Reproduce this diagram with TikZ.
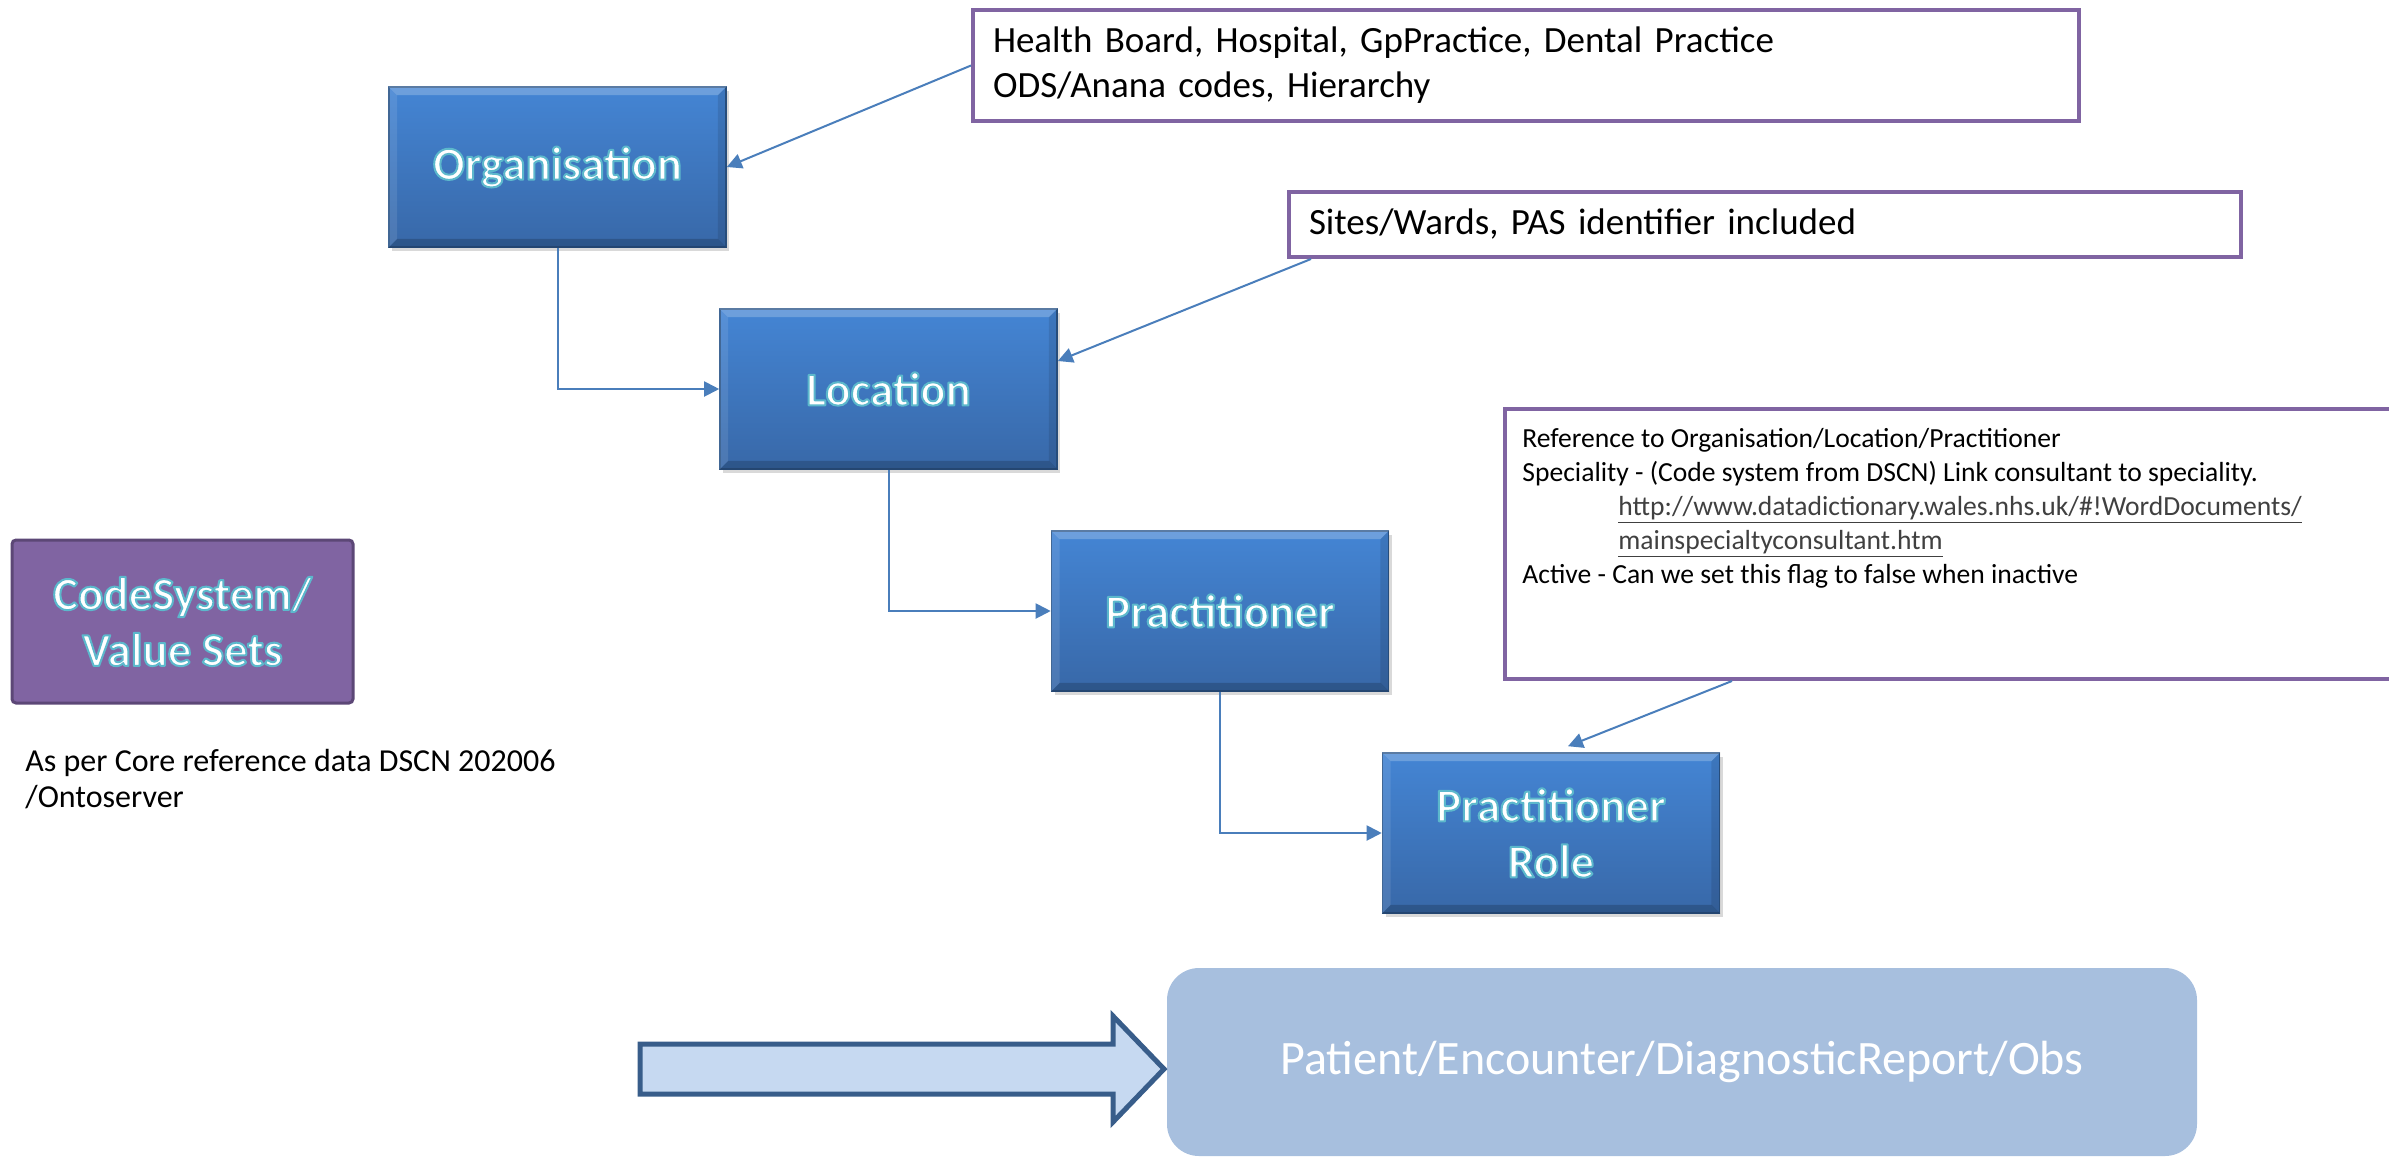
\documentclass[tikz,border=0pt]{standalone}
\usepackage{fontspec}
\setmainfont{Carlito}
\usetikzlibrary{arrows.meta,calc,shadows}

\definecolor{boxtop}{RGB}{68,133,212}
\definecolor{boxbot}{RGB}{56,104,168}
\definecolor{boxedge}{RGB}{44,86,138}
\definecolor{notepurple}{RGB}{128,100,162}
\definecolor{purpleedge}{RGB}{92,71,118}
\definecolor{linkblue}{RGB}{74,126,187}
\definecolor{arrowfill}{RGB}{198,217,241}
\definecolor{arrowedge}{RGB}{56,93,138}
\definecolor{flowfill}{RGB}{167,191,222}
\definecolor{urlgrey}{RGB}{64,64,64}

% white letters with a teal outline
\newcommand{\glow}[1]{\special{pdf:literal direct 2 Tr 1 w 1 j 0.36 0.72 0.80 RG}#1\special{pdf:literal direct 0 Tr}}

\tikzset{
  entity/.style={draw=boxedge, line width=0.8pt, top color=boxtop, bottom color=boxbot,
    minimum width=168.5pt, minimum height=80pt, align=center, text=white,
    font=\fontsize{23.5}{28}\selectfont\bfseries,
    drop shadow={shadow xshift=1.5pt, shadow yshift=-2pt, opacity=0.3}},
  valueset/.style={draw=purpleedge, line width=1.5pt, fill=notepurple, rounded corners=2pt,
    minimum width=170.5pt, minimum height=81.5pt, align=center, text=white,
    font=\fontsize{23.5}{28}\selectfont\bfseries},
  note/.style={draw=notepurple, line width=2pt, fill=white, anchor=north west, align=left,
    inner xsep=10pt, font=\fontsize{18.5}{22.5}\selectfont},
  link/.style={draw=linkblue, line width=1pt, -{Triangle[length=7.5pt,width=7.5pt]}},
}

\begin{document}
\begin{tikzpicture}[x=0.5pt,y=0.5pt,yscale=-1,xscale=1]
\useasboundingbox (0,0) rectangle (2389,1158);

% Entities
\node[entity] (org) at (557.5,167) {\glow{Organisation}};
\node[entity] (loc) at (888.5,389) {\glow{Location}};
\node[entity] (prac) at (1220,611) {\glow{Practitioner}};
\node[entity] (role) at (1551,833) {\glow{Practitioner}\\\glow{Role}};

% bevel edges
\foreach \n in {org,loc,prac,role}{
  \fill[white,opacity=0.22] (\n.north west) -- (\n.north east) -- ($(\n.north east)+(-9,9)$) -- ($(\n.north west)+(9,9)$) -- cycle;
  \fill[white,opacity=0.10] (\n.north west) -- ($(\n.north west)+(9,9)$) -- ($(\n.south west)+(9,-9)$) -- (\n.south west) -- cycle;
  \fill[black,opacity=0.18] (\n.south west) -- (\n.south east) -- ($(\n.south east)+(-9,-9)$) -- ($(\n.south west)+(9,-9)$) -- cycle;
  \fill[black,opacity=0.10] (\n.north east) -- ($(\n.north east)+(-9,9)$) -- ($(\n.south east)+(-9,-9)$) -- (\n.south east) -- cycle;
}

% Value sets
\node[valueset] (codes) at (182.5,621.5) {\glow{CodeSystem/}\\\glow{Value Sets}};
\node[anchor=north west, inner sep=0pt, align=left, font=\fontsize{16}{18}\selectfont] (dscn) at (25,749) {As per Core reference data DSCN 202006\\/Ontoserver};

% Notes
\node[note, text width=533pt, minimum height=55.5pt] (odsnote) at (971,8) {Health Board, Hospital, GpPractice, Dental Practice\\ODS/Anana codes, Hierarchy};
\node[note, text width=456pt, minimum height=32.5pt] (sitesnote) at (1287,190) {Sites/Wards, PAS identifier included};
\node[note, minimum width=460pt, minimum height=135pt] (refnote) at (1503,407) {};
\node[anchor=north west, inner sep=0pt, align=left, font=\fontsize{13.8}{17}\selectfont] (reftext) at (1522,428) {Reference to Organisation/Location/Practitioner\\Speciality - (Code system from DSCN) Link consultant to speciality.\\\hspace*{48pt}\textcolor{urlgrey}{\underline{http://www.datadictionary.wales.nhs.uk/\#!WordDocuments/}}\\\hspace*{48pt}\textcolor{urlgrey}{\underline{mainspecialtyconsultant.htm}}\\Active - Can we set this flag to false when inactive};

% Connectors
\draw[link] (org.south) |- (loc.west);
\draw[link] (loc.south) |- (prac.west);
\draw[link] (prac.south) |- (role.west);
\draw[link] (odsnote.west) -- (org.east);
\draw[link] ($(sitesnote.south west)+(24,0)$) -- ($(loc.east)+(0,-28)$);
\draw[link] ($(refnote.south west)+(229,0)$) -- ($(role.north)+(17,-6)$);

% Flow
\node[fill=flowfill, rounded corners=16pt, minimum width=515pt, minimum height=94pt, text=white, font=\fontsize{24}{28}\selectfont] (clin) at (1682,1062) {Patient/Encounter/DiagnosticReport/Obs};
\draw[arrowedge, line width=2.5pt, fill=arrowfill] (640,1044) -- (1113,1044) -- (1113,1016) -- (1164,1069) -- (1113,1122) -- (1113,1094) -- (640,1094) -- cycle;

\end{tikzpicture}
\end{document}
